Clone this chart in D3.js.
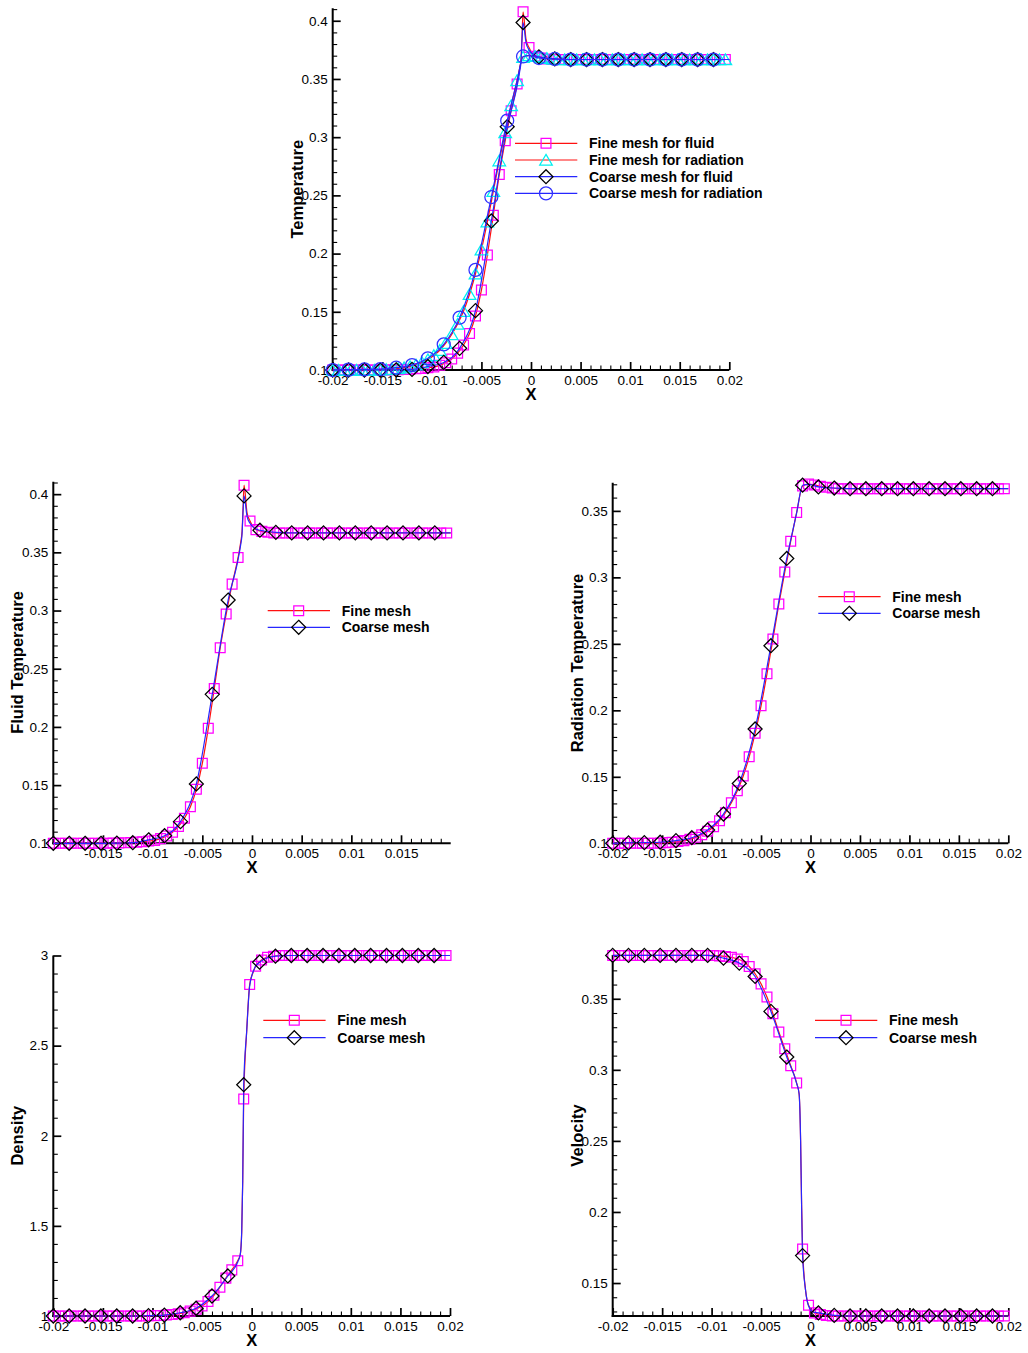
<!DOCTYPE html>
<html>
<head>
<meta charset="utf-8">
<script src="https://cdn.jsdelivr.net/npm/d3@7"></script>
<style>
  body { margin: 0; background: #fff; }
  svg { display: block; font-family: "Liberation Sans", Arial, Helvetica, sans-serif; }
</style>
</head>
<body>
<svg id="chart" width="1028" height="1353"></svg>
<script>
/* Five Tecplot-style line plots: fine vs coarse mesh for a radiative shock.
   Data first, then one makePanel() that draws a frame from a config. */

// x positions where the symbols sit (fine mesh / coarse mesh)
const fineX = [
  -0.0200, -0.0194, -0.0188, -0.0182, -0.0176, -0.0170, -0.0164, -0.0158, -0.0152, -0.0146,
  -0.0140, -0.0134, -0.0128, -0.0122, -0.0116, -0.0110, -0.0104, -0.0098, -0.0092, -0.0086,
  -0.0080, -0.0074, -0.0068, -0.0062, -0.0056, -0.0050, -0.0044, -0.0038, -0.0032, -0.0026,
  -0.0020, -0.0014, -0.0008, -0.0002, 0.0004, 0.0010, 0.0016, 0.0022, 0.0028, 0.0034,
  0.0040, 0.0046, 0.0052, 0.0058, 0.0064, 0.0070, 0.0076, 0.0082, 0.0088, 0.0094,
  0.0100, 0.0106, 0.0112, 0.0118, 0.0124, 0.0130, 0.0136, 0.0142, 0.0148, 0.0154,
  0.0160, 0.0166, 0.0172, 0.0178, 0.0184, 0.0190, 0.0196
];
const coarseX = [
  -0.0200, -0.0184, -0.0168, -0.0152, -0.0136, -0.0120, -0.0104, -0.0088, -0.0072, -0.0056,
  -0.0040, -0.0024, -0.0008, 0.0008, 0.0024, 0.0040, 0.0056, 0.0072, 0.0088, 0.0104,
  0.0120, 0.0136, 0.0152, 0.0168, 0.0184
];

// fluid temperature
const fluidFine = [
  0.1, 0.1, 0.1, 0.1, 0.1, 0.1, 0.1, 0.1, 0.1, 0.1,
  0.1002, 0.1003, 0.1005, 0.1007, 0.1010, 0.1014, 0.1020, 0.1025, 0.1040, 0.1062,
  0.1095, 0.1145, 0.1215, 0.1314, 0.1464, 0.1687, 0.1988, 0.2330, 0.2680, 0.2970,
  0.3227, 0.3456, 0.4077, 0.3770, 0.3695, 0.3680, 0.3672, 0.3667, 0.3667, 0.3667,
  0.3667, 0.3667, 0.3667, 0.3667, 0.3667, 0.3667, 0.3667, 0.3667, 0.3667, 0.3667,
  0.3667, 0.3667, 0.3667, 0.3667, 0.3667, 0.3667, 0.3667, 0.3667, 0.3667, 0.3667,
  0.3667, 0.3667, 0.3667, 0.3667, 0.3667, 0.3667, 0.3667
];
const fluidCoarse = [
  0.1, 0.1, 0.1, 0.1, 0.1002, 0.1005, 0.1030, 0.1065, 0.1186, 0.1510,
  0.2280, 0.3090, 0.3985, 0.3690, 0.3672, 0.3667, 0.3667, 0.3667, 0.3667, 0.3667,
  0.3667, 0.3667, 0.3667, 0.3667, 0.3667
];
// extra line points (shock spike)
const fluidFineExtra = [[-0.00115, 0.358], [-0.0010, 0.368], [-0.0009, 0.388], [-0.0005, 0.384], [0.02, 0.3667]];
const fluidCoarseExtra = [[-0.0014, 0.344], [-0.00115, 0.356], [-0.0010, 0.366], [-0.0009, 0.385],
  [-0.0005, 0.381], [-0.0002, 0.375], [0.0003, 0.3705], [0.02, 0.3667]];

// radiation temperature
const radFine = [
  0.1, 0.1, 0.1, 0.1, 0.1, 0.1, 0.1, 0.1, 0.1003, 0.1005,
  0.1008, 0.1013, 0.1020, 0.1030, 0.1045, 0.1065, 0.1090, 0.1125, 0.1170, 0.1230,
  0.1305, 0.1395, 0.1506, 0.1651, 0.1827, 0.2034, 0.2275, 0.2536, 0.2799, 0.3041,
  0.3272, 0.3488, 0.3688, 0.3702, 0.3695, 0.3685, 0.3678, 0.3672, 0.3667, 0.3667,
  0.3667, 0.3667, 0.3667, 0.3667, 0.3667, 0.3667, 0.3667, 0.3667, 0.3667, 0.3667,
  0.3667, 0.3667, 0.3667, 0.3667, 0.3667, 0.3667, 0.3667, 0.3667, 0.3667, 0.3667,
  0.3667, 0.3667, 0.3667, 0.3667, 0.3667, 0.3667, 0.3667
];
const radCoarse = [
  0.1, 0.1003, 0.1005, 0.1008, 0.1020, 0.1042, 0.1100, 0.1220, 0.1450, 0.1860,
  0.2486, 0.3142, 0.3693, 0.3680, 0.3672, 0.3667, 0.3667, 0.3667, 0.3667, 0.3667,
  0.3667, 0.3667, 0.3667, 0.3667, 0.3667
];
const radFineExtra = [[0.02, 0.3667]];
const radCoarseExtra = [[-0.0014, 0.3485], [-0.0002, 0.3700], [0.02, 0.3667]];

// density
const densFine = [
  1, 1, 1, 1, 1, 1, 1, 1, 1, 1,
  1, 1, 1, 1, 1, 1, 1.001, 1.002, 1.003, 1.005,
  1.008, 1.012, 1.018, 1.027, 1.038, 1.055, 1.080, 1.115, 1.160, 1.210,
  1.256, 1.307, 2.204, 2.839, 2.940, 2.975, 2.990, 2.996, 3, 3,
  3, 3, 3, 3, 3, 3, 3, 3, 3, 3,
  3, 3, 3, 3, 3, 3, 3, 3, 3, 3,
  3, 3, 3, 3, 3, 3, 3
];
const densCoarse = [
  1, 1, 1, 1, 1, 1, 1.002, 1.005, 1.018, 1.043,
  1.111, 1.222, 2.283, 2.963, 2.996, 3, 3, 3, 3, 3,
  3, 3, 3, 3, 3
];
const densFineExtra = [[-0.00115, 1.34], [-0.0010, 1.47], [-0.0009, 1.75], [-0.0005, 2.58], [0.0001, 2.90], [0.02, 3]];
const densCoarseExtra = [[-0.0014, 1.30], [-0.00115, 1.34], [-0.0010, 1.47], [-0.0009, 1.75],
  [-0.0005, 2.58], [-0.0002, 2.83], [0.0003, 2.93], [0.02, 3]];

// velocity
const velFine = [
  0.3805, 0.3805, 0.3805, 0.3805, 0.3805, 0.3805, 0.3805, 0.3805, 0.3805, 0.3805,
  0.3805, 0.3805, 0.3805, 0.3805, 0.3805, 0.3805, 0.3805, 0.3804, 0.3802, 0.3798,
  0.3792, 0.3780, 0.3762, 0.3727, 0.3676, 0.3605, 0.3512, 0.3395, 0.3266, 0.3148,
  0.3029, 0.2907, 0.1740, 0.1343, 0.1290, 0.1278, 0.1272, 0.1268, 0.1268, 0.1268,
  0.1268, 0.1268, 0.1268, 0.1268, 0.1268, 0.1268, 0.1268, 0.1268, 0.1268, 0.1268,
  0.1268, 0.1268, 0.1268, 0.1268, 0.1268, 0.1268, 0.1268, 0.1268, 0.1268, 0.1268,
  0.1268, 0.1268, 0.1268, 0.1268, 0.1268, 0.1268, 0.1268
];
const velCoarse = [
  0.3805, 0.3805, 0.3805, 0.3805, 0.3805, 0.3805, 0.3805, 0.3786, 0.3751, 0.3657,
  0.3411, 0.3090, 0.1693, 0.1290, 0.1272, 0.1268, 0.1268, 0.1268, 0.1268, 0.1268,
  0.1268, 0.1268, 0.1268, 0.1268, 0.1268
];
const velFineExtra = [[-0.00115, 0.283], [-0.0010, 0.250], [-0.0009, 0.205], [-0.0005, 0.145], [0.02, 0.1268]];
const velCoarseExtra = [[-0.0014, 0.2905], [-0.00115, 0.283], [-0.0010, 0.250], [-0.0009, 0.205],
  [-0.0005, 0.145], [-0.0002, 0.134], [0.0003, 0.1295], [0.02, 0.1268]];

// tick labels
const xTicksFull = [-0.02, -0.015, -0.01, -0.005, 0, 0.005, 0.01, 0.015, 0.02];
const xTicksInner = [-0.015, -0.01, -0.005, 0, 0.005, 0.01, 0.015];
const tempTicks = [0.1, 0.15, 0.2, 0.25, 0.3, 0.35, 0.4];
const radTicks = [0.1, 0.15, 0.2, 0.25, 0.3, 0.35];
const densTicks = [1, 1.5, 2, 2.5, 3];
const velTicks = [0.15, 0.2, 0.25, 0.3, 0.35];

const legendTemp = ['Fine mesh for fluid', 'Fine mesh for radiation', 'Coarse mesh for fluid', 'Coarse mesh for radiation'];
const legendMesh = ['Fine mesh', 'Coarse mesh'];

const colors = {
    red: '#ff1010',
    blue: '#2626ff',
    magenta: '#ff00ff',
    cyan: '#00f0f0',
    black: '#000000',
    circle: '#3030ff'
};

// symbol outlines, centred on the point
const symbols = {
    square: 'M-4.9,-4.9H4.9V4.9H-4.9Z',
    diamond: 'M0,-7L7,0L0,7L-7,0Z',
    triangle: 'M0,-5.6L6.3,5.2L-6.3,5.2Z',
    circle: d3.symbol(d3.symbolCircle, Math.PI * 6.5 * 6.5)()
};

const fineStyleA = { line: colors.red, symbol: 'square', stroke: colors.magenta };
const fineStyleB = { line: colors.red, symbol: 'triangle', stroke: colors.cyan };
const coarseStyleA = { line: colors.blue, symbol: 'diamond', stroke: colors.black };
const coarseStyleB = { line: colors.blue, symbol: 'circle', stroke: colors.circle };

const fmt = d => String(+d.toFixed(4));
const minorX = d3.range(-20, 21).filter(i => i % 5 !== 0).map(i => i / 1000);
const minorXInner = minorX.filter(v => Math.abs(v) < 0.0195);

const panels = [
    {   // combined temperatures
        left: 332.7, right: 729.3, top: 8.3, bottom: 370,
        yDomain: [0.1, 0.4107], yMajor: tempTicks,
        yMinor: d3.range(10, 42).filter(i => i % 5).map(i => i / 100),
        xMajor: xTicksFull, xLabels: xTicksFull, xMinor: minorX,
        yTitle: 'Temperature',
        series: [
            { xs: fineX, ys: fluidFine, extra: fluidFineExtra, style: fineStyleA },
            { xs: fineX, ys: radFine, extra: radFineExtra, style: fineStyleB },
            { xs: coarseX, ys: fluidCoarse, extra: fluidCoarseExtra, style: coarseStyleA },
            { xs: coarseX, ys: radCoarse, extra: radCoarseExtra, style: coarseStyleB }
        ],
        labels: legendTemp, legend: { x: 515, y: 143.3, gap: 16.7 }
    },
    {   // fluid temperature
        left: 53.3, right: 450.7, top: 481.7, bottom: 843.3,
        yDomain: [0.1, 0.4107], yMajor: tempTicks,
        yMinor: d3.range(10, 42).filter(i => i % 5).map(i => i / 100),
        xMajor: xTicksInner, xLabels: xTicksInner, xMinor: minorXInner,
        yTitle: 'Fluid Temperature',
        series: [
            { xs: fineX, ys: fluidFine, extra: fluidFineExtra, style: fineStyleA },
            { xs: coarseX, ys: fluidCoarse, extra: fluidCoarseExtra, style: coarseStyleA }
        ],
        labels: legendMesh, legend: { x: 267.7, y: 610.7, gap: 16.6 }
    },
    {   // radiation temperature
        left: 612.7, right: 1008.3, top: 482.7, bottom: 843.3,
        yDomain: [0.1, 0.3712], yMajor: radTicks,
        yMinor: d3.range(10, 38).filter(i => i % 5).map(i => i / 100),
        xMajor: xTicksFull, xLabels: xTicksFull, xMinor: minorX,
        yTitle: 'Radiation Temperature',
        series: [
            { xs: fineX, ys: radFine, extra: radFineExtra, style: fineStyleA },
            { xs: coarseX, ys: radCoarse, extra: radCoarseExtra, style: coarseStyleA }
        ],
        labels: legendMesh, legend: { x: 818.3, y: 596.7, gap: 16.6 }
    },
    {   // density
        left: 53.3, right: 450, top: 955.5, bottom: 1316,
        yDomain: [1, 3], yMajor: densTicks,
        yMinor: d3.range(10, 31).filter(i => i % 5).map(i => i / 10),
        xMajor: xTicksFull, xLabels: xTicksFull, xMinor: minorX,
        yTitle: 'Density',
        series: [
            { xs: fineX, ys: densFine, extra: densFineExtra, style: fineStyleA },
            { xs: coarseX, ys: densCoarse, extra: densCoarseExtra, style: coarseStyleA }
        ],
        labels: legendMesh, legend: { x: 263.3, y: 1020.3, gap: 17.4 }
    },
    {   // velocity
        left: 612.7, right: 1008.3, top: 955, bottom: 1316,
        yDomain: [0.1268, 0.3808], yMajor: velTicks,
        yMinor: d3.range(13, 39).filter(i => i % 5).map(i => i / 100),
        xMajor: xTicksFull, xLabels: xTicksFull, xMinor: minorX,
        yTitle: 'Velocity',
        series: [
            { xs: fineX, ys: velFine, extra: velFineExtra, style: fineStyleA },
            { xs: coarseX, ys: velCoarse, extra: velCoarseExtra, style: coarseStyleA }
        ],
        labels: legendMesh, legend: { x: 815, y: 1020.3, gap: 17.4 }
    }
];

function styleAxis(sel, width) {
    sel.select('.domain').remove();
    sel.attr('font-size', 13.5).attr('font-family', null);
    sel.selectAll('line').attr('stroke', '#000').attr('stroke-width', width);
    sel.selectAll('text').attr('fill', '#000');
}

function makePanel(root, p) {
    let x = d3.scaleLinear().domain([-0.02, 0.02]).range([p.left, p.right]);
    let y = d3.scaleLinear().domain(p.yDomain).range([p.bottom, p.top]);
    let g = root.append('g');

    // ticks point inwards, Tecplot style; minor ones first
    g.append('g').attr('transform', `translate(0,${p.bottom})`)
        .call(d3.axisBottom(x).tickValues(p.xMinor).tickSizeInner(-4.5).tickSizeOuter(0).tickFormat(''))
        .call(styleAxis, 1.1);
    g.append('g').attr('transform', `translate(0,${p.bottom})`)
        .call(d3.axisBottom(x).tickValues(p.xMajor).tickSizeInner(-8).tickSizeOuter(0).tickPadding(5)
            .tickFormat(d => p.xLabels.includes(d) ? fmt(d) : ''))
        .call(styleAxis, 1.7);
    g.append('g').attr('transform', `translate(${p.left},0)`)
        .call(d3.axisLeft(y).tickValues(p.yMinor).tickSizeInner(-4.5).tickSizeOuter(0).tickFormat(''))
        .call(styleAxis, 1.1);
    g.append('g').attr('transform', `translate(${p.left},0)`)
        .call(d3.axisLeft(y).tickValues(p.yMajor).tickSizeInner(-8).tickSizeOuter(0).tickPadding(5).tickFormat(fmt))
        .call(styleAxis, 1.7);

    // axis lines (only left and bottom)
    g.append('line').attr('x1', p.left - 1).attr('x2', p.right).attr('y1', p.bottom).attr('y2', p.bottom)
        .attr('stroke', '#000').attr('stroke-width', 2);
    g.append('line').attr('x1', p.left).attr('x2', p.left).attr('y1', p.bottom + 1).attr('y2', p.top)
        .attr('stroke', '#000').attr('stroke-width', 2);

    // axis titles
    g.append('text')
        .attr('transform', `translate(${p.left - 30},${(p.top + p.bottom) / 2}) rotate(-90)`)
        .attr('text-anchor', 'middle')
        .attr('font-weight', 'bold')
        .attr('font-size', 16.5)
        .text(p.yTitle);
    g.append('text')
        .attr('x', x(0))
        .attr('y', p.bottom + 30)
        .attr('text-anchor', 'middle')
        .attr('font-weight', 'bold')
        .attr('font-size', 16.5)
        .text('X');

    let line = d3.line().x(d => x(d[0])).y(d => y(d[1])).curve(d3.curveMonotoneX);

    p.series.forEach(s => {
        let marks = s.xs.map((xv, i) => [xv, s.ys[i]]);
        let pts = marks.concat(s.extra).sort((a, b) => a[0] - b[0]);
        g.append('path')
            .attr('d', line(pts))
            .attr('fill', 'none')
            .attr('stroke', s.style.line)
            .attr('stroke-width', 1.2);
        g.append('g').selectAll('path')
            .data(marks)
            .join('path')
            .attr('d', symbols[s.style.symbol])
            .attr('transform', d => `translate(${x(d[0])},${y(d[1])})`)
            .attr('fill', 'none')
            .attr('stroke', s.style.stroke)
            .attr('stroke-width', 1.25);
    });

    // legend: line with the symbol in its middle, then bold label
    let lg = g.append('g');
    p.series.forEach((s, i) => {
        let ly = p.legend.y + i * p.legend.gap;
        lg.append('line')
            .attr('x1', p.legend.x).attr('x2', p.legend.x + 62.3)
            .attr('y1', ly).attr('y2', ly)
            .attr('stroke', s.style.line).attr('stroke-width', 1.2);
        lg.append('path')
            .attr('d', symbols[s.style.symbol])
            .attr('transform', `translate(${p.legend.x + 31},${ly})`)
            .attr('fill', 'none')
            .attr('stroke', s.style.stroke)
            .attr('stroke-width', 1.25);
        lg.append('text')
            .attr('x', p.legend.x + 74)
            .attr('y', ly)
            .attr('dy', '0.35em')
            .attr('font-weight', 'bold')
            .attr('font-size', 14)
            .text(p.labels[i]);
    });
}

const root = d3.select('#chart');
root.append('rect').attr('width', 1028).attr('height', 1353).attr('fill', '#fff');
panels.forEach(p => makePanel(root, p));
</script>
</body>
</html>
